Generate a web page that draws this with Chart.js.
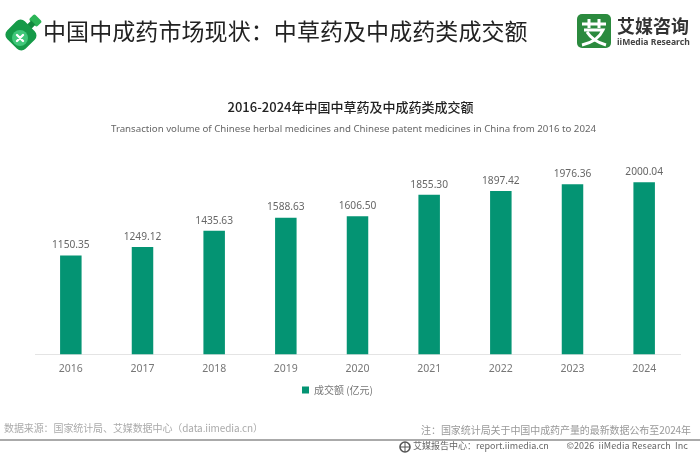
<!DOCTYPE html>
<html>
<head>
<meta charset="utf-8">
<script src="https://cdn.jsdelivr.net/npm/chart.js@4/dist/chart.umd.min.js"></script>
<style>
html,body{margin:0;padding:0;background:#fff;width:700px;height:455px;overflow:hidden;font-family:"Noto Sans CJK SC","Noto Sans",sans-serif}
#histogramme{position:absolute;left:0;top:0}
.t{position:absolute;white-space:nowrap}
svg{position:absolute}
</style>
</head>
<body>
<canvas id="histogramme" width="700" height="455"></canvas>

<svg style="left:2px;top:14px" width="40" height="40" viewBox="0 0 40 40">
  <g transform="rotate(45 20 20)">
    <rect x="14.5" y="-3" width="11" height="8" rx="2" fill="#2bb457"/>
    <rect x="17" y="4" width="6" height="6" fill="#128a3f"/>
    <rect x="7" y="9" width="26" height="25" rx="6" fill="#159a48"/>
  </g>
  <circle cx="18" cy="24" r="8" fill="#3fc779"/>
  <path d="M15 21l6 6M21 21l-6 6" stroke="#fff" stroke-width="2.4" stroke-linecap="round"/>
</svg>
<div class="t" style="left:43px;top:13px;font-size:23px;line-height:34px;color:#222;letter-spacing:.08px">中国中成药市场现状：中草药及中成药类成交额</div>

<svg style="left:577px;top:14px" width="34" height="34" viewBox="0 0 34 34">
  <rect width="34" height="34" rx="5" fill="#2b8a3e"/>
  <path d="M5 10H29M12 5V14M22 5V14M7 16H26C22 25 14 29 5 31M10 18C15 26 22 29 29 31" stroke="#fff" stroke-width="3" fill="none"/>
</svg>
<div class="t" style="left:617px;top:13px;font-size:18px;line-height:24px;font-weight:700;color:#333">艾媒咨询</div>
<div class="t" style="left:617px;top:36px;font-size:8.6px;line-height:13px;font-weight:700;color:#444;font-family:'Noto Sans',sans-serif">iiMedia Research</div>

<div class="t" style="left:4px;top:420px;font-size:10px;line-height:16px;color:#aaa;letter-spacing:-.1px">数据来源：国家统计局、艾媒数据中心（data.iimedia.cn）</div>
<div class="t" style="right:9px;top:422px;font-size:10px;line-height:16px;color:#999;letter-spacing:-.08px">注：国家统计局关于中国中成药产量的最新数据公布至2024年</div>
<div style="position:absolute;left:0;top:439px;width:700px;height:2px;background:#aaa"></div>
<svg style="left:399px;top:441px" width="12" height="12" viewBox="0 0 12 12">
  <circle cx="6" cy="6" r="5" fill="none" stroke="#555" stroke-width="1.6"/>
  <path d="M1 6H11M6 1V11" stroke="#555" stroke-width="1"/>
</svg>
<div class="t" style="left:413px;top:438px;font-size:9px;line-height:16px;color:#666">艾媒报告中心：report.iimedia.cn</div>
<div class="t" style="right:12px;top:438px;font-size:9px;line-height:16px;color:#666;letter-spacing:.1px">©2026&nbsp; iiMedia Research&nbsp; Inc</div>

<script>
var years = ['2016','2017','2018','2019','2020','2021','2022','2023','2024'];
var amounts = [1150.35,1249.12,1435.63,1588.63,1606.50,1855.30,1897.42,1976.36,2000.04];
var seriesName = '成交额 (亿元)';
var chartTitle = '2016-2024年中国中草药及中成药类成交额';
var chartSubtitle = 'Transaction volume of Chinese herbal medicines and Chinese patent medicines in China from 2016 to 2024';

// values above the bars
var barLabels = {
  id: 'barLabels',
  afterDatasetsDraw: function(chart){
    var ctx = chart.ctx;
    var bars = chart.getDatasetMeta(0).data;
    ctx.save();
    ctx.font = '10.2px "Noto Sans"';
    ctx.fillStyle = '#666';
    ctx.textAlign = 'center';
    ctx.textBaseline = 'bottom';
    for(var i = 0;i<bars.length;i++){
      ctx.fillText(amounts[i].toFixed(2), bars[i].x, bars[i].y-5);
    }
    ctx.restore();
  }
};

// title and legend are not centred on the plot in the original
var nudgeBoxes = {
  id: 'nudgeBoxes',
  afterLayout: function(chart){
    chart.boxes.forEach(function(b){
      if(!b.options) return;
      if(b.options.text === chartTitle) b.left -= 14;
      if(b.options.text === chartSubtitle) b.left -= 8;
    });
    chart.legend.right -= 40;
  }
};

var config = {
  type: 'bar',
  data: {
    labels: years,
    datasets: [{
      label: seriesName,
      data: amounts,
      backgroundColor: '#049473',
      barPercentage: 0.3,
      categoryPercentage: 1
    }]
  },
  options: {
    responsive: false,
    animation: false,
    layout: {padding: {left: 35, right: 20, top: 99, bottom: 50}},
    plugins: {
      title: {
        display: true,
        text: chartTitle,
        color: '#222',
        font: {family: '"Noto Sans CJK SC"', size: 13, weight: '500'},
        padding: {top: 0, bottom: 9}
      },
      subtitle: {
        display: true,
        text: chartSubtitle,
        color: '#666',
        font: {family: '"Noto Sans"', size: 9.7},
        padding: {top: 0, bottom: 4}
      },
      legend: {
        position: 'bottom',
        labels: {
          boxWidth: 7,
          boxHeight: 7,
          padding: 10,
          color: '#777',
          font: {family: '"Noto Sans CJK SC"', size: 10}
        }
      },
      tooltip: {enabled: false}
    },
    scales: {
      x: {
        grid: {display: false},
        border: {color: '#e4e4e4'},
        ticks: {color: '#777', font: {family: '"Noto Sans"', size: 10.5}, padding: 0, maxRotation: 0}
      },
      y: {
        display: false,
        min: 0,
        max: 2500
      }
    }
  },
  plugins: [barLabels, nudgeBoxes]
};

var ctx = document.getElementById("histogramme");
var myChart = new Chart(ctx, config);
</script>
</body>
</html>
